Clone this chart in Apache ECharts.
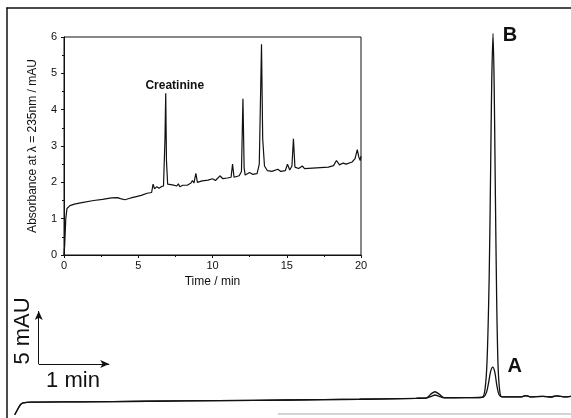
<!DOCTYPE html>
<html>
<head>
<meta charset="utf-8">
<script src="https://cdn.jsdelivr.net/npm/echarts@6/dist/echarts.min.js"></script>
<style>
  html, body { margin: 0; padding: 0; background: #fff; }
  #chart { width: 571px; height: 418px; }
</style>
</head>
<body>
<div id="chart"></div>
<script>
// inset: full chromatogram, time (min) vs absorbance (mAU)
var insetTrace = [
  [0, 0], [0.05, 0.3], [0.12, 1.0], [0.2, 1.28], [0.4, 1.36], [0.7, 1.4], [1.2, 1.44],
  [2, 1.5], [2.6, 1.53], [3.2, 1.57], [3.6, 1.58], [3.8, 1.55], [4.1, 1.52], [4.5, 1.57],
  [4.8, 1.6], [5.2, 1.64], [5.6, 1.7], [5.9, 1.72], [6.0, 1.95], [6.1, 1.82], [6.25, 1.88],
  [6.4, 1.84], [6.55, 1.88], [6.7, 1.9], [6.8, 3.2], [6.85, 4.45], [6.9, 2.6], [6.98, 1.95],
  [7.3, 1.93], [7.6, 1.9], [7.7, 1.96], [7.8, 1.88], [8.0, 1.92], [8.3, 1.92], [8.55, 1.98],
  [8.65, 2.05], [8.75, 1.98], [8.88, 2.25], [8.98, 2.0], [9.3, 2.04], [9.7, 2.06], [10.0, 2.1],
  [10.2, 2.05], [10.5, 2.18], [10.7, 2.1], [11.0, 2.12], [11.25, 2.14], [11.35, 2.5],
  [11.45, 2.14], [11.8, 2.18], [11.95, 2.3], [12.05, 4.3], [12.13, 2.4], [12.2, 2.2],
  [12.5, 2.27], [12.7, 2.22], [13.0, 2.24], [13.15, 2.5], [13.3, 5.8], [13.38, 3.2],
  [13.5, 2.45], [13.7, 2.32], [14.0, 2.3], [14.4, 2.36], [14.6, 2.3], [14.9, 2.32],
  [15.05, 2.5], [15.2, 2.34], [15.35, 2.45], [15.45, 3.2], [15.55, 2.42], [15.8, 2.38],
  [16.05, 2.45], [16.2, 2.38], [17.0, 2.4], [17.8, 2.42], [18.15, 2.46], [18.35, 2.6],
  [18.55, 2.48], [18.8, 2.53], [19.0, 2.5], [19.4, 2.56], [19.6, 2.65], [19.75, 2.9],
  [19.85, 2.7], [19.95, 2.6], [20, 2.72]
];

// main traces: zoom around the creatinine peak, A and B overlaid
var traceA = [
  [0.11, -1.2], [0.15, -0.7], [0.19, -0.25], [0.23, -0.08], [0.35, 0], [1.0, 0.03],
  [2.0, 0.08], [3.0, 0.14], [4.0, 0.2], [5.0, 0.27], [5.8, 0.36], [5.95, 0.38],
  [6.02, 0.55], [6.07, 0.67], [6.13, 0.55], [6.2, 0.4], [6.5, 0.42], [6.75, 0.45],
  [6.8, 0.9], [6.83, 1.8], [6.86, 2.9], [6.89, 3.3], [6.92, 2.8], [6.95, 1.5],
  [6.98, 0.7], [7.02, 0.5], [7.3, 0.5], [7.36, 0.62], [7.42, 0.5], [7.6, 0.55],
  [7.7, 0.48], [7.8, 0.58], [7.9, 0.5], [8.0, 0.55]
];
var traceB = [
  [0.11, -1.2], [0.15, -0.7], [0.19, -0.25], [0.23, -0.08], [0.35, 0], [1.0, 0.03],
  [2.0, 0.08], [3.0, 0.14], [4.0, 0.2], [5.0, 0.27], [5.8, 0.36], [5.95, 0.4],
  [6.02, 0.8], [6.07, 0.98], [6.13, 0.75], [6.2, 0.42], [6.5, 0.42], [6.74, 0.46],
  [6.78, 1.2], [6.81, 4], [6.84, 12], [6.86, 22], [6.875, 30], [6.894, 34.8],
  [6.91, 30], [6.925, 21], [6.945, 10], [6.965, 3.5], [6.99, 1.0], [7.02, 0.5],
  [7.3, 0.5], [7.36, 0.62], [7.42, 0.5], [7.6, 0.55], [7.7, 0.48], [7.8, 0.58],
  [7.9, 0.5], [8.0, 0.55]
];

// scale bar: 5 mAU up, 1 min across
var barOrigin = [0.45, 3.6];
var barUpEnd = [0.45, 8.6];
var barRightEnd = [1.45, 3.6];

var insetXTicks = [0, 5, 10, 15, 20];
var insetYTicks = [0, 1, 2, 3, 4, 5, 6];

var font = 'Liberation Sans, Arial, sans-serif';
var ink = '#111';

var myChart = echarts.init(document.getElementById('chart'));

function peakLabel(text, coord, size, offset) {
  return {
    silent: true,
    symbol: 'circle',
    symbolSize: 1,
    itemStyle: { color: 'rgba(0,0,0,0)' },
    data: [{ coord: coord }],
    label: {
      show: true, formatter: text, position: 'inside', offset: offset,
      color: ink, fontFamily: font, fontWeight: 'bold', fontSize: size
    }
  };
}

var option = {
  backgroundColor: '#fff',
  animation: false,
  grid: [
    { left: 7, top: 8, right: 0, bottom: 0 },
    { left: 64, top: 37, right: 210, bottom: 163, show: true, borderColor: ink, borderWidth: 1 }
  ],
  xAxis: [
    {
      gridIndex: 0, type: 'value', min: 0, max: 8, position: 'top',
      axisLine: { show: true, onZero: false, lineStyle: { color: ink, width: 1.5 } },
      axisTick: { show: false }, axisLabel: { show: false }, splitLine: { show: false }
    },
    {
      gridIndex: 1, type: 'value', min: 0, max: 20, interval: 5,
      name: 'Time / min', nameLocation: 'middle', nameGap: 20,
      nameTextStyle: { fontFamily: font, fontSize: 12, color: ink },
      axisLine: { onZero: false, lineStyle: { color: ink } },
      axisTick: { length: 3, lineStyle: { color: ink } },
      minorTick: { show: true, splitNumber: 2, length: 2, lineStyle: { color: ink } },
      axisLabel: {
        fontFamily: font, fontSize: 11, color: ink, margin: 5,
        customValues: insetXTicks
      },
      splitLine: { show: false }
    }
  ],
  yAxis: [
    {
      gridIndex: 0, type: 'value', min: -1.5, max: 37.2,
      axisLine: { show: true, onZero: false, lineStyle: { color: ink, width: 1.5 } },
      axisTick: { show: false }, axisLabel: { show: false }, splitLine: { show: false }
    },
    {
      gridIndex: 1, type: 'value', min: 0, max: 6, interval: 1,
      name: 'Absorbance at \u03bb = 235nm / mAU', nameLocation: 'middle', nameGap: 25,
      nameTextStyle: { fontFamily: font, fontSize: 12, color: ink },
      axisLine: { show: true, onZero: false, lineStyle: { color: ink } },
      axisTick: { length: 3, lineStyle: { color: ink } },
      minorTick: { show: true, splitNumber: 2, length: 2, lineStyle: { color: ink } },
      axisLabel: {
        fontFamily: font, fontSize: 11, color: ink, margin: 7,
        customValues: insetYTicks
      },
      splitLine: { show: false }
    }
  ],
  series: [
    {
      name: 'A', type: 'line', xAxisIndex: 0, yAxisIndex: 0, data: traceA,
      showSymbol: false, smooth: 0.3, lineStyle: { color: ink, width: 1.3 },
      markPoint: peakLabel('A', [6.89, 3.3], 20, [22, -1])
    },
    {
      name: 'B', type: 'line', xAxisIndex: 0, yAxisIndex: 0, data: traceB,
      showSymbol: false, smooth: 0.3, lineStyle: { color: ink, width: 1.3 },
      markPoint: peakLabel('B', [6.894, 34.8], 20, [17, 2]),
      markLine: {
        silent: true,
        symbol: ['none', 'arrow'],
        symbolSize: [6, 9],
        label: { show: false },
        lineStyle: { color: ink, width: 1, type: 'solid' },
        data: [
          [{ coord: barOrigin }, { coord: barUpEnd }],
          [{ coord: barOrigin }, { coord: barRightEnd }]
        ]
      }
    },
    {
      name: 'inset', type: 'line', xAxisIndex: 1, yAxisIndex: 1, data: insetTrace,
      showSymbol: false, lineStyle: { color: ink, width: 1.2 },
      markPoint: peakLabel('Creatinine', [6.85, 4.45], 12, [9, -8])
    }
  ],
  graphic: [
    {
      type: 'text', x: 23, y: 331, rotation: Math.PI / 2,
      style: { text: '5 mAU', font: '22px ' + font, fill: ink, align: 'center', verticalAlign: 'middle' }
    },
    {
      type: 'text', x: 73, y: 381,
      style: { text: '1 min', font: '22px ' + font, fill: ink, align: 'center', verticalAlign: 'middle' }
    },
    {
      type: 'line', silent: true,
      shape: { x1: 278, y1: 414, x2: 571, y2: 414 },
      style: { stroke: '#d4d4d4', lineWidth: 2 }
    }
  ]
};

myChart.setOption(option);
</script>
</body>
</html>
